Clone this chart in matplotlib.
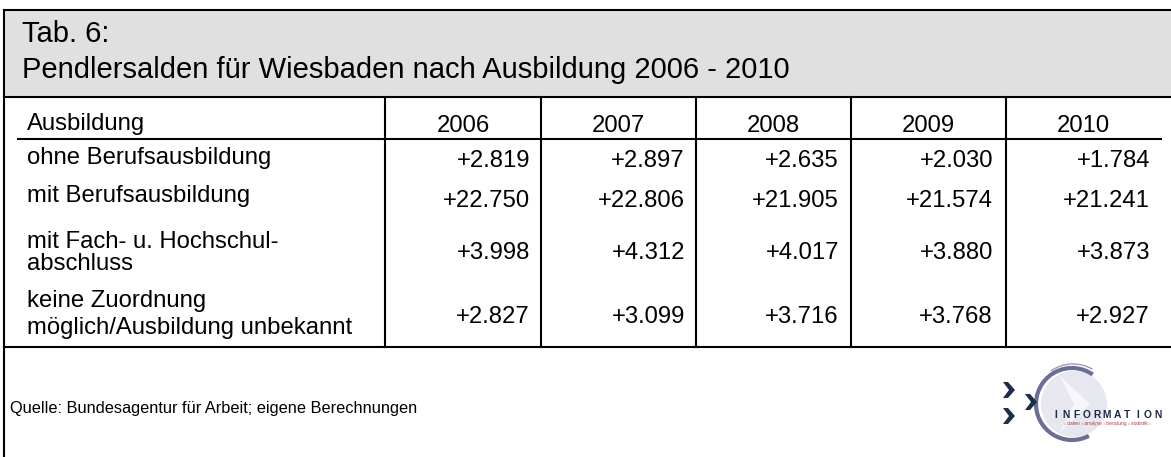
import matplotlib
matplotlib.use("Agg")
import matplotlib.pyplot as plt
from matplotlib.patches import Rectangle, Arc, Circle, Polygon

plt.rcParams['font.family'] = ['Liberation Sans', 'DejaVu Sans']

title_1 = "Tab. 6:"
title_2 = "Pendlersalden für Wiesbaden nach Ausbildung 2006 - 2010"
header = "Ausbildung"
years = ["2006", "2007", "2008", "2009", "2010"]
categories = ["ohne Berufsausbildung",
              "mit Berufsausbildung",
              "mit Fach- u. Hochschul-\nabschluss",
              "keine Zuordnung\nmöglich/Ausbildung unbekannt"]
ohne = [2819, 2897, 2635, 2030, 1784]
mit = [22750, 22806, 21905, 21574, 21241]
hochschul = [3998, 4312, 4017, 3880, 3873]
unbekannt = [2827, 3099, 3716, 3768, 2927]
source = "Quelle: Bundesagentur für Arbeit; eigene Berechnungen"

rows = [ohne, mit, hochschul, unbekannt]


def fmt(v):
    # German style: +22.750
    return f"{v:+,}".replace(",", ".")


W, H = 1171, 457
fig = plt.figure(figsize=(W / 100, H / 100), dpi=100)
ax = fig.add_axes([0, 0, 1, 1])
ax.set_xlim(0, W)
ax.set_ylim(H, 0)
ax.axis('off')

lw = 1.5
# title band
ax.add_patch(Rectangle((4, 10), W, 87, facecolor='#e0e0e0', edgecolor='none'))
ax.plot([4, W], [10, 10], color='black', lw=lw)
ax.plot([4, 4], [10, H], color='black', lw=lw)
ax.plot([4, W], [97, 97], color='black', lw=lw)
ax.text(22, 42, title_1, fontsize=21, va='baseline')
ax.text(22, 78, title_2, fontsize=21, va='baseline')

# table grid
col_edges = [385, 541, 696, 851, 1006, 1160]
for x in col_edges[:-1]:
    ax.plot([x, x], [97, 347], color='black', lw=lw)
ax.plot([18, 1161], [139, 139], color='black', lw=lw)
ax.plot([4, W], [347, 347], color='black', lw=lw)

fs = 17.2
ax.text(27, 130, header, fontsize=fs, va='baseline')
for i, y in enumerate(years):
    cx = (col_edges[i] + col_edges[i + 1]) / 2
    ax.text(cx, 132, y, fontsize=fs, va='baseline', ha='center')

label_base = [164, 202, 248, 307]
line_gap = [0, 0, 22, 27]
value_base = [167, 207, 259, 323]
right_x = [530, 685, 839, 993, 1150]
for r, (label, vals) in enumerate(zip(categories, rows)):
    for k, line in enumerate(label.split("\n")):
        ax.text(27, label_base[r] + k * line_gap[r], line, fontsize=fs, va='baseline')
    for j, v in enumerate(vals):
        ax.text(right_x[j], value_base[r], fmt(v), fontsize=fs, va='baseline', ha='right')

ax.text(10, 413, source, fontsize=11.8, va='baseline')

# logo
cx, cy, rad = 1072, 404, 36
ax.add_patch(Circle((cx + 2, cy), rad - 3, facecolor='#e7e7f0', edgecolor='none'))
ax.add_patch(Polygon([(cx - 12, cy - 28), (cx + 18, cy), (cx - 12, cy + 28),
                      (cx + 2, cy)], closed=True, facecolor='#f7f7fa', edgecolor='none'))
ax.add_patch(Arc((cx, cy), 2 * rad, 2 * rad, theta1=62, theta2=305, color='#6b6f98', lw=3))
ax.add_patch(Arc((cx + 1, cy - 1), 2 * rad + 6, 2 * rad + 6, theta1=235, theta2=300,
                 color='#9a9cb8', lw=1))
for (x0, y0) in [(1003, 390), (1003, 416), (1025, 402)]:
    ax.add_patch(Polygon([(x0, y0 - 8), (x0 + 5, y0 - 8), (x0 + 12, y0), (x0 + 5, y0 + 8),
                          (x0, y0 + 8), (x0 + 6, y0)], closed=True,
                         facecolor='#1e2d4a', edgecolor='none'))
word = "INFORMATION"
for k, ch in enumerate(word):
    ax.text(1056 + k * 10.2, 418, ch, fontsize=7.4, ha='center', va='baseline',
            color='#1e2a44', fontweight='bold')
ax.text(1107, 425.5, "› daten › analyse › beratung › statistik ›", fontsize=3.6,
        ha='center', va='baseline', color='#b04050')

fig.savefig("out.png", dpi=100)
